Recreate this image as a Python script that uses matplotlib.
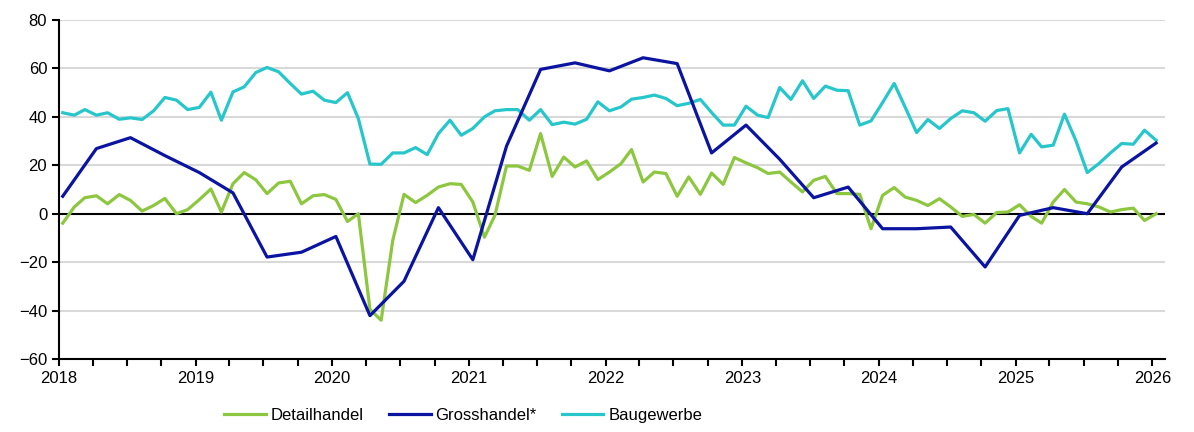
import numpy as np
import pandas as pd
import matplotlib
matplotlib.use('Agg')
import matplotlib.pyplot as plt
import matplotlib.dates as mdates

plt.rcParams.update({
  'font.family': ['Liberation Sans', 'DejaVu Sans'],
  'font.size': 12,
})

# monthly series, Jan 2018 .. Jan 2026
detailhandel = [
  -3.9, 2.8, 6.6, 7.4, 4.1, 7.9, 5.5, 1.1, 3.4, 6.3, 0.0, 1.7,
  5.8, 10.2, 0.7, 12.4, 17.0, 14.0, 8.3, 12.7, 13.4, 4.1, 7.4, 7.9,
  5.9, -3.2, 0.0, -39.5, -44.0, -11.0, 8.0, 4.6, 7.6, 11.0, 12.4, 12.1,
  4.8, -9.7, -0.7, 19.7, 19.7, 17.9, 33.1, 15.4, 23.4, 19.3, 21.8, 14.1,
  17.2, 20.7, 26.5, 13.1, 17.2, 16.6, 7.2, 15.2, 8.0, 16.8, 12.1, 23.2,
  21.0, 19.0, 16.6, 17.2, 13.1, 9.0, 13.8, 15.4, 8.3, 8.3, 8.0, -6.2,
  7.6, 10.8, 6.9, 5.5, 3.4, 6.2, 2.8, -1.1, -0.3, -3.9, 0.5, 0.7,
  3.7, -1.1, -3.9, 4.8, 10.0, 4.8, 4.1, 2.8, 0.7, 1.7, 2.3, -2.8,
  0.0,
]
baugewerbe = [
  41.7, 40.7, 43.0, 40.7, 41.7, 39.0, 39.6, 38.9, 42.5, 48.0, 46.9, 43.0,
  43.9, 50.2, 38.6, 50.3, 52.4, 58.3, 60.4, 58.6, 53.8, 49.4, 50.6, 46.9,
  45.9, 50.0, 39.3, 20.5, 20.4, 25.1, 25.1, 27.3, 24.4, 33.1, 38.6, 32.4,
  35.2, 40.0, 42.5, 43.0, 43.0, 38.6, 43.0, 36.8, 37.8, 37.0, 39.0, 46.2,
  42.5, 44.1, 47.3, 48.0, 49.0, 47.6, 44.6, 45.6, 47.2, 41.8, 36.6, 36.6,
  44.4, 40.7, 39.7, 52.1, 47.2, 54.9, 47.6, 52.7, 51.0, 50.8, 36.6, 38.3,
  45.9, 53.8, 44.1, 33.5, 38.9, 35.2, 39.3, 42.5, 41.7, 38.2, 42.6, 43.4,
  25.1, 32.8, 27.6, 28.3, 41.1, 30.0, 17.0, 20.7, 25.1, 29.0, 28.7, 34.5,
  30.3,
]
# quarterly series, Q1 2018 .. Q1 2026
grosshandel = [
  7.2, 26.9, 31.4, 24.0, 17.0, 8.6, -17.9, -15.9, -9.4, -42.1, -27.9, 2.5,
  -19.0, 27.9, 59.6, 62.3, 59.0, 64.4, 62.0, 25.1, 36.6, 22.5, 6.6, 11.0,
  -6.2, -6.2, -5.5, -22.0, -0.7, 2.5, 0.0, 19.3, 29.2,
]

months = pd.date_range('2018-01-01', periods=len(detailhandel), freq='MS') + pd.Timedelta(days=10)
quarters = pd.date_range('2018-01-01', periods=len(grosshandel), freq='QS') + pd.Timedelta(days=10)

c_detail = '#8DC63F'
c_gross = '#0A14A0'
c_bau = '#26C6CB'

fig = plt.figure(figsize=(11.94, 4.32), dpi=100)
ax = fig.add_axes([0.0494, 0.169, 0.9264, 0.7847])

for v in range(-40, 81, 20):
  if v != 0:
    ax.axhline(v, color='#D9D9D9', lw=1.5, zorder=0)
ax.axhline(0, color='black', lw=1.5, zorder=1)

ax.plot(months, detailhandel, color=c_detail, lw=2.3, label='Detailhandel', zorder=3)
ax.plot(quarters, grosshandel, color=c_gross, lw=2.3, label='Grosshandel*', zorder=3)
ax.plot(months, baugewerbe, color=c_bau, lw=2.3, label='Baugewerbe', zorder=2)

ax.set_ylim(-60, 80)
ax.set_yticks(range(-60, 81, 20))
ax.set_xlim(pd.Timestamp('2018-01-01'), pd.Timestamp('2026-02-04'))
ax.xaxis.set_major_locator(mdates.YearLocator())
ax.xaxis.set_major_formatter(mdates.DateFormatter('%Y'))
ax.xaxis.set_minor_locator(mdates.MonthLocator(bymonth=[4, 7, 10]))

for s in ['top', 'right']:
  ax.spines[s].set_visible(False)
for s in ['left', 'bottom']:
  ax.spines[s].set_linewidth(1.5)
ax.tick_params(axis='both', which='both', direction='out', width=1.5, length=5, colors='black', labelsize=12)
ax.tick_params(axis='x', pad=4)

fig.legend(loc='center', bbox_to_anchor=(0.388, 0.038), ncol=3, frameon=False,
           handlelength=2.5, handletextpad=0.3, columnspacing=1.5, fontsize=12)

fig.savefig('out.png', dpi=100)
